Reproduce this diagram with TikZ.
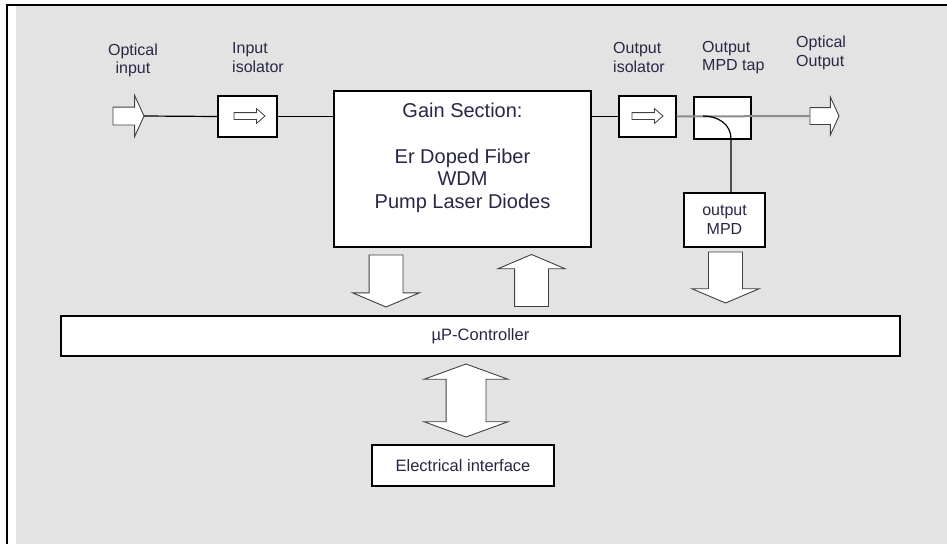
\documentclass[tikz,border=0pt]{standalone}
\usepackage{fontspec}
\setmainfont{Liberation Sans}
\usetikzlibrary{positioning, shapes.arrows}

\definecolor{panel}{RGB}{227,227,227}
\definecolor{ink}{RGB}{40,40,70}
\definecolor{fibre}{RGB}{140,140,140}

\begin{document}
\begin{tikzpicture}[x=1pt, y=-1pt,
    box/.style={rectangle, draw, fill=white, line width=1.2pt, inner sep=0pt},
    lbl/.style={font=\fontsize{16}{18.5}\selectfont, text=ink, inner sep=0pt},
    hollow/.style={single arrow, draw=black!75, fill=white, line width=0.9pt, inner xsep=0pt, outer sep=0pt},
    bigarrow/.style={hollow, inner ysep=16.5pt, minimum width=66pt, single arrow head extend=16.5pt, single arrow tip angle=134, minimum height=52pt},
    optarrow/.style={hollow, inner ysep=8.5pt, minimum width=40pt, single arrow head extend=11.5pt, single arrow tip angle=131, minimum height=31pt},
    isoarrow/.style={hollow, line width=0.8pt, inner ysep=3pt, minimum width=14pt, single arrow head extend=4pt, single arrow tip angle=82, minimum height=31pt}
]

\useasboundingbox (0,0) rectangle (947,544);
\fill[white] (0,0) rectangle (947,544);
\fill[panel] (16,6) rectangle (947,544);
\draw[line width=1.3pt] (7,544) -- (7,5) -- (947,5);

% optical path
\node[optarrow, anchor=tip] (inarr) at (144,116) {};
\node[box, minimum width=59pt, minimum height=41pt] (iso1) at (247.5,116.5) {};
\node[isoarrow, anchor=tip] (iso1arr) at (265,116) {};
\node[box, minimum width=257pt, minimum height=156pt] (gain) at (462.5,169) {};
\node[font=\fontsize{20}{22.7}\selectfont, text=ink, align=center, inner sep=0pt] (gaintext) at (462.5,158)
    {Gain Section:\\[22.7pt]Er Doped Fiber\\WDM\\Pump Laser Diodes};
\node[box, minimum width=57pt, minimum height=41pt] (iso2) at (647.5,116.5) {};
\node[isoarrow, anchor=tip] (iso2arr) at (663,116) {};
\node[box, minimum width=57pt, minimum height=42pt] (tap) at (722.5,118) {};
\node[box, minimum width=81pt, minimum height=54pt, align=center, font=\fontsize{16}{18.5}\selectfont, text=ink] (mpd) at (724.5,220) {output\\MPD};
\node[optarrow, inner ysep=8pt, minimum width=37pt, single arrow head extend=10.5pt, minimum height=29pt, anchor=tip] (outarr) at (839,116) {};
\coordinate (split) at (703,116);

\draw[line width=1.2pt] (inarr.tip) -- (iso1.west);
\draw[line width=1.2pt] (iso1.east) -- (iso1.east -| gain.west);
\draw[line width=1.2pt] (gain.east |- iso2.west) -- (iso2.west);
\draw[fibre, line width=2pt] (iso2.east) -- (outarr.tail);
\draw[line width=1.2pt] (split) .. controls (718,116) and (731,124) .. (731,139) -- (mpd.north -| 731,139);

% labels
\node[lbl, align=center] (inlbl) at (133,60.5) {Optical\\input};
\node[lbl, align=left, anchor=west] (iso1lbl) at (232,57.5) {Input\\isolator};
\node[lbl, align=left, anchor=west] (iso2lbl) at (613,57.5) {Output\\isolator};
\node[lbl, align=left, anchor=west] (taplbl) at (702,57.5) {Output\\MPD tap};
\node[lbl, align=left, anchor=west] (outlbl) at (796,53) {Optical\\Output};

% control
\node[box, minimum width=839pt, minimum height=40pt, font=\fontsize{16.5}{19}\selectfont, text=ink] (ctrl) at (480.5,336) {µP-Controller};
\node[box, minimum width=182pt, minimum height=41pt, font=\fontsize{16.5}{19}\selectfont, text=ink] (elec) at (463,465.5) {Electrical interface};

\node[bigarrow, rotate=-90, anchor=tip] (dn1) at (386,307) {};
\node[bigarrow, rotate=90, anchor=tip] (up1) at (531.5,254.5) {};
\node[bigarrow, minimum width=67pt, minimum height=51pt, rotate=-90, anchor=tip] (dn2) at (725.5,303) {};
\node[double arrow, draw=black!75, fill=white, line width=0.9pt, inner xsep=0pt, inner ysep=19.5pt, outer sep=0pt,
    minimum width=83pt, double arrow head extend=22pt, double arrow tip angle=140, minimum height=73pt, rotate=90] (bus) at (466,400.5) {};

\end{tikzpicture}
\end{document}
